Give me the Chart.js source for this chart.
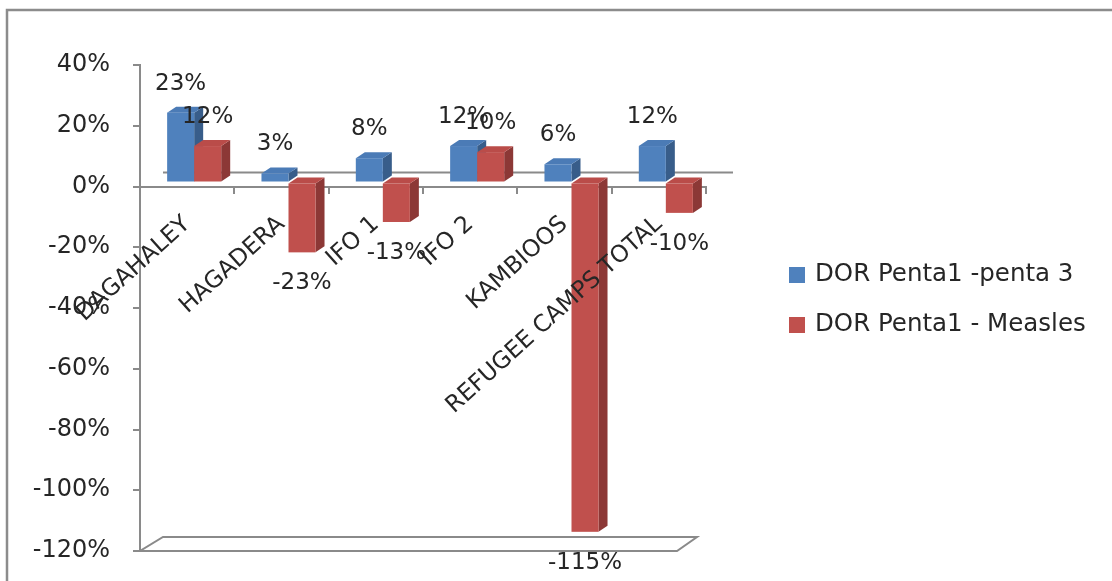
<!DOCTYPE html>
<html>
<head>
<meta charset="utf-8">
<title>DOR by camp</title>
<style>
  html, body { margin: 0; padding: 0; background: #fff; }
</style>
<script src="https://cdn.jsdelivr.net/npm/chart.js@4/dist/chart.umd.min.js"></script>
</head>
<body>
<canvas id="dorChart" width="1112" height="581"></canvas>
<script>
// data
const camps = ['DAGAHALEY', 'HAGADERA', 'IFO 1', 'IFO 2', 'KAMBIOOS', 'REFUGEE CAMPS TOTAL'];
const dorPenta3 = [23, 3, 8, 12, 6, 12];
const dorMeasles = [12, -23, -13, 10, -115, -10];
const seriesNames = ['DOR Penta1 -penta 3', 'DOR Penta1 - Measles'];
const yMin = -120;
const yMax = 40;
const yStep = 20;

// colours of the excel 3d columns: front, top, side
const frontColors = ['#4F81BD', '#C0504D'];
const topColors = ['#4B7BB6', '#BA4C49'];
const sideColors = ['#385D8A', '#8C3836'];

const axisColor = '#8a8a8a';
const textColor = '#262626';
const fontFamily = "'DejaVu Sans', sans-serif";

// 3d look
const DEPTH_X = 9, DEPTH_Y = -6;     // bar depth
const SHIFT_X = 7, SHIFT_Y = -4;     // bars stand a bit behind the front axis
const BACK_X = 23, BACK_Y = -14;     // back wall / floor depth

Chart.defaults.font.family = fontFamily;
Chart.defaults.color = textColor;

function poly(ctx, pts) {
    ctx.beginPath();
    ctx.moveTo(pts[0][0], pts[0][1]);
    for (let k = 1; k < pts.length; k++) ctx.lineTo(pts[k][0], pts[k][1]);
    ctx.closePath();
    ctx.fill();
}

// frame, floor and back zero line
const backdrop = {
    id: 'backdrop',
    beforeDraw(chart) {
        const ctx = chart.ctx;
        ctx.save();
        ctx.strokeStyle = '#8c8c8c';
        ctx.lineWidth = 2.5;
        ctx.beginPath();
        ctx.moveTo(7, chart.height);
        ctx.lineTo(7, 10);
        ctx.lineTo(chart.width, 10);
        ctx.stroke();
        ctx.restore();
    },
    beforeDatasetsDraw(chart) {
        const ctx = chart.ctx;
        const area = chart.chartArea;
        const yAxis = chart.scales.y;
        const yFloor = yAxis.getPixelForValue(yMin);
        const yZero = yAxis.getPixelForValue(0);
        const floorRight = area.right - 29;

        ctx.save();
        ctx.strokeStyle = axisColor;
        ctx.lineWidth = 2;
        ctx.beginPath();
        ctx.moveTo(area.left, yFloor);
        ctx.lineTo(floorRight, yFloor);
        ctx.lineTo(floorRight + 20, yFloor + BACK_Y);
        ctx.lineTo(area.left + BACK_X, yFloor + BACK_Y);
        ctx.closePath();
        ctx.stroke();

        ctx.beginPath();
        ctx.moveTo(area.left + BACK_X, yZero + BACK_Y);
        ctx.lineTo(area.right + 27, yZero + BACK_Y);
        ctx.stroke();
        ctx.restore();
    }
};

// draws the columns as 3d boxes + value labels, blue first so red covers its side
const bars3d = {
    id: 'bars3d',
    beforeDatasetDraw() {
        return false;
    },
    afterDatasetsDraw(chart) {
        const ctx = chart.ctx;
        ctx.save();
        ctx.translate(SHIFT_X, SHIFT_Y);
        chart.data.datasets.forEach((ds, i) => {
            const meta = chart.getDatasetMeta(i);
            meta.data.forEach(bar => {
                const { x, y, base, width } = bar.getProps(['x', 'y', 'base', 'width'], true);
                const l = x - width / 2, r = x + width / 2;
                const t = Math.min(y, base), b = Math.max(y, base);

                ctx.fillStyle = sideColors[i];
                poly(ctx, [[r, t], [r + DEPTH_X, t + DEPTH_Y], [r + DEPTH_X, b + DEPTH_Y], [r, b]]);
                ctx.fillStyle = topColors[i];
                poly(ctx, [[l, t], [l + DEPTH_X, t + DEPTH_Y], [r + DEPTH_X, t + DEPTH_Y], [r, t]]);
                ctx.fillStyle = frontColors[i];
                ctx.fillRect(l, t, width, b - t);
            });
        });

        ctx.font = '23px ' + fontFamily;
        ctx.fillStyle = textColor;
        ctx.textAlign = 'center';
        ctx.textBaseline = 'middle';
        chart.data.datasets.forEach((ds, i) => {
            const meta = chart.getDatasetMeta(i);
            meta.data.forEach((bar, j) => {
                const { x, y, base } = bar.getProps(['x', 'y', 'base'], true);
                const v = ds.data[j];
                const ly = v >= 0 ? Math.min(y, base) - 29 : Math.max(y, base) + 31;
                ctx.fillText(v + '%', x, ly);
            });
        });
        ctx.restore();
    }
};

const sideLegend = {
    id: 'sideLegend',
    afterDraw(chart) {
        const ctx = chart.ctx;
        ctx.save();
        ctx.font = '24.5px ' + fontFamily;
        ctx.textBaseline = 'middle';
        ctx.textAlign = 'left';
        chart.data.datasets.forEach((ds, i) => {
            const cy = 275 + i * 50;
            ctx.fillStyle = frontColors[i];
            ctx.fillRect(789, cy - 8, 16, 16);
            ctx.fillStyle = textColor;
            ctx.fillText(ds.label, 815, cy);
        });
        ctx.restore();
    }
};

const ctx = document.getElementById('dorChart').getContext('2d');

new Chart(ctx, {
    type: 'bar',
    data: {
        labels: camps,
        datasets: [
            { label: seriesNames[0], data: dorPenta3, backgroundColor: frontColors[0] },
            { label: seriesNames[1], data: dorMeasles, backgroundColor: frontColors[1] }
        ]
    },
    options: {
        responsive: false,
        animation: false,
        devicePixelRatio: 1,
        layout: { padding: { left: 0, top: 65, right: 406, bottom: 30 } },
        datasets: { bar: { categoryPercentage: 0.573, barPercentage: 1 } },
        plugins: { legend: { display: false }, tooltip: { enabled: false } },
        scales: {
            x: {
                position: { y: 0 },
                offset: true,
                ticks: {
                    z: 1,               // labels over the columns, like excel
                    minRotation: 42,
                    maxRotation: 42,
                    autoSkip: false,
                    padding: 18,
                    color: textColor,
                    font: { size: 23.5 }
                },
                grid: { drawOnChartArea: false, offset: true, tickLength: 6, color: axisColor, lineWidth: 2 },
                border: { color: axisColor, width: 2 }
            },
            y: {
                min: yMin,
                max: yMax,
                ticks: {
                    stepSize: yStep,
                    padding: 23,
                    color: textColor,
                    font: { size: 24 },
                    callback: v => v + '%'
                },
                grid: { drawOnChartArea: false, tickLength: 7, color: axisColor, lineWidth: 2 },
                border: { color: axisColor, width: 2 },
                afterFit: s => {
                    s.width = 140;
                    // the big tick padding should not eat into the plot height
                    s.paddingTop = 15;
                    s.paddingBottom = 15;
                }
            }
        }
    },
    plugins: [backdrop, bars3d, sideLegend]
});
</script>
</body>
</html>
